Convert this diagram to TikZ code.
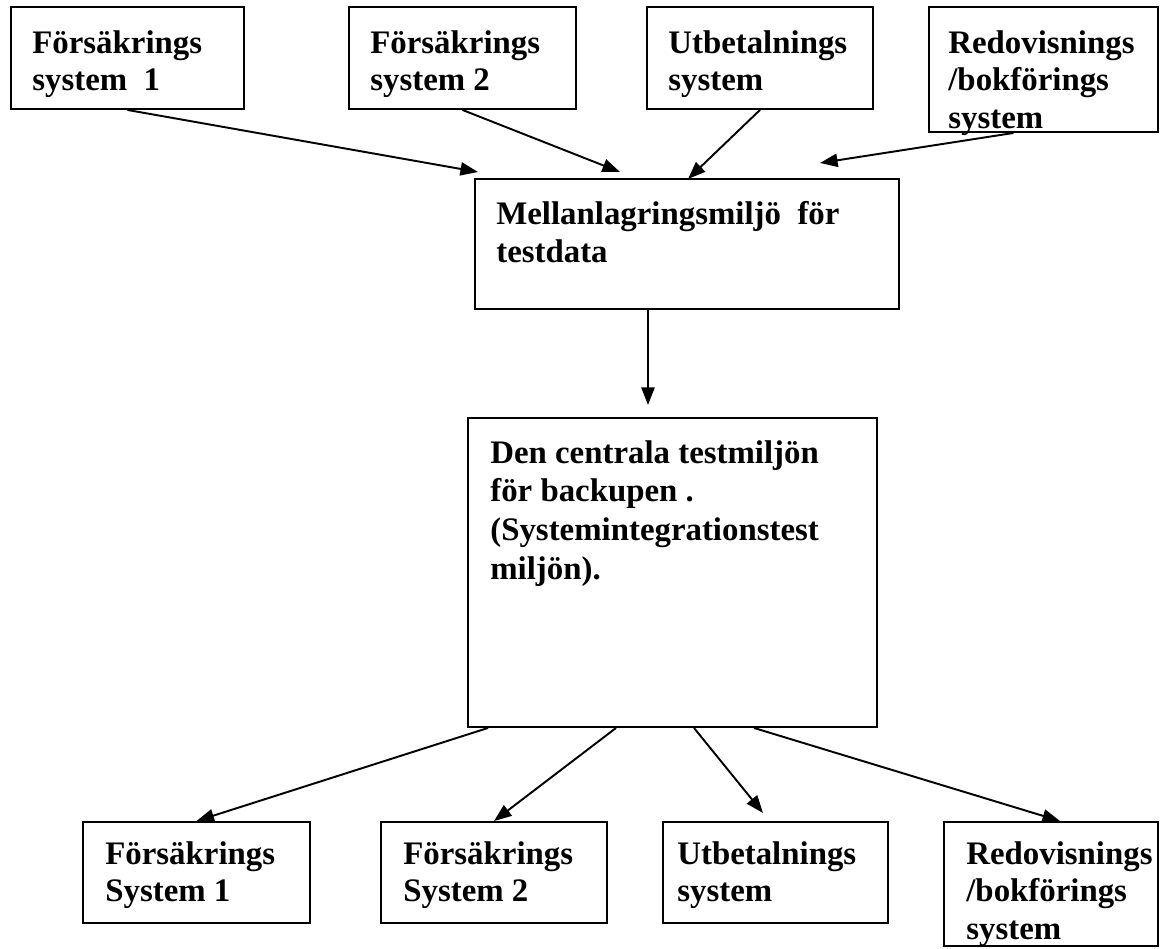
\documentclass[tikz,border=0pt]{standalone}
\usepackage{fontspec}
\setmainfont{Liberation Serif}
\usetikzlibrary{arrows.meta}
\usetikzlibrary{calc}
\newlength\pxunit
\setlength\pxunit{0.02cm}
\tikzset{box/.style={draw,line width=1.1pt,inner sep=0pt},
	lbl/.style={anchor=north west,inner sep=0pt,align=left,
		font=\bfseries\fontsize{18.7}{21.5}\selectfont}}

\begin{document}
\begin{tikzpicture}[x=0.02cm,y=-0.02cm]
		\useasboundingbox (0,0) rectangle (1160,949);
		% boxes
		\begin{scope}[every node/.style={box,minimum height=102*\pxunit}]
			\node[minimum width=233*\pxunit] (t1) at (127.5,58) {};
			\node[minimum width=227*\pxunit] (t2) at (462.5,58) {};
			\node[minimum width=226*\pxunit] (t3) at (760,58) {};
			\node[minimum width=229*\pxunit,minimum height=125*\pxunit] (t4) at (1043.5,69.5) {};
			\node[minimum width=424*\pxunit,minimum height=130*\pxunit] (mid) at (687,244) {};
			\node[minimum width=409*\pxunit,minimum height=309*\pxunit] (cen) at (672.5,572.5) {};
			\node[minimum width=227*\pxunit,minimum height=101*\pxunit] (b1) at (196.5,872.5) {};
			\node[minimum width=226*\pxunit,minimum height=101*\pxunit] (b2) at (494,872.5) {};
			\node[minimum width=225*\pxunit,minimum height=101*\pxunit] (b3) at (775.5,872.5) {};
			\node[minimum width=214*\pxunit,minimum height=124*\pxunit] (b4) at (1051,884) {};
		\end{scope}
		% texts
		\begin{scope}[every node/.style={lbl}]
			\node (t1txt) at (32,30) {Försäkrings\\system\ \ 1};
			\node (t2txt) at (370,30) {Försäkrings\\system 2};
			\node (t3txt) at (668,30) {Utbetalnings\\system};
			\node (t4txt) at (948,30) {Redovisnings\\/bokförings\\system};
			\node (midtxt) at (496,201) {Mellanlagringsmiljö\ \ för\\testdata};
			\node[font=\bfseries\fontsize{18.7}{22}\selectfont] (centxt) at (490,440)
				{Den centrala testmiljön\\för backupen .\\(Systemintegrationstest\\miljön).};
			\node (b1txt) at (105,841) {Försäkrings\\System 1};
			\node (b2txt) at (403,841) {Försäkrings\\System 2};
			\node (b3txt) at (677,841) {Utbetalnings\\system};
			\node (b4txt) at (966,841) {Redovisnings\\/bokförings\\system};
		\end{scope}
		% free arrow ends
		\coordinate (in1) at (478,172);
		\coordinate (in2) at (620,172);
		\coordinate (in3) at (688,179);
		\coordinate (in4) at (820,163);
		\coordinate (dn) at (648,405);
		\coordinate (out3) at (763,813);
		% arrows
		\begin{scope}[>={Triangle[length=10pt,width=7.5pt]},
			every edge/.style={draw,line width=1.1pt}]
			\path [->] (t1.south) edge (in1);
			\path [->] (t2.south) edge (in2);
			\path [->] (t3.south) edge (in3);
			\path [->] ($(t4.south)+(-30,0)$) edge (in4);
			\path [->] ($(mid.south)+(-39,0)$) edge (dn);
			\path [->] ($(cen.south)+(-184.5,0)$) edge (b1.north);
			\path [->] ($(cen.south)+(-56.5,0)$) edge (b2.north);
			\path [->] ($(cen.south)+(21.5,0)$) edge (out3);
			\path [->] ($(cen.south)+(81.5,0)$) edge ($(b4.north)+(9,0)$);
		\end{scope}
	\end{tikzpicture}
\end{document}
